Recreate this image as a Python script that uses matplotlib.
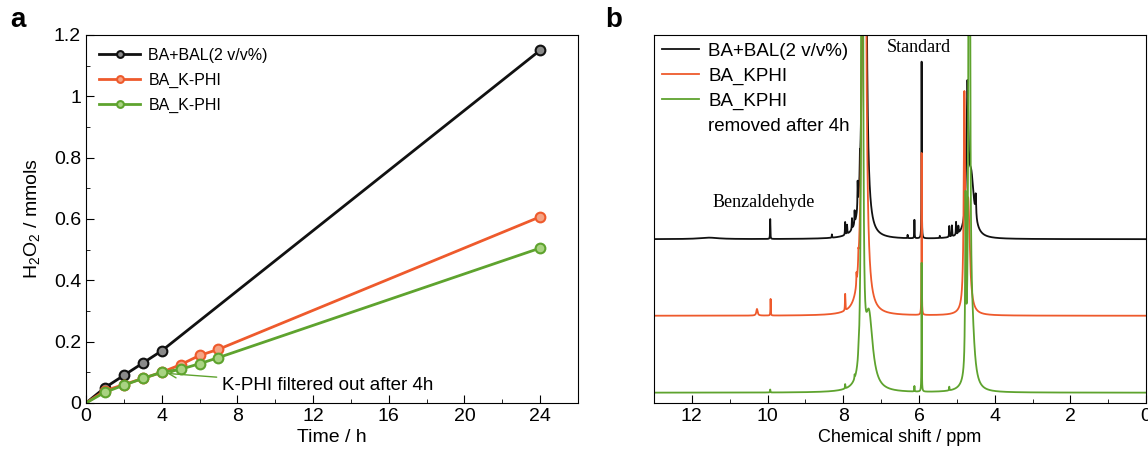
import matplotlib
matplotlib.use("Agg")
import matplotlib.pyplot as plt
import numpy as np
from matplotlib.lines import Line2D
from matplotlib.ticker import FuncFormatter, MultipleLocator

plt.rcParams["font.family"] = ["Liberation Sans", "DejaVu Sans"]

# panel a: H2O2 production
TIME_BAL = [0, 1, 2, 3, 4, 24]
H2O2_BAL = [0, 0.05, 0.09, 0.13, 0.17, 1.15]
TIME_KPHI = [0, 1, 2, 3, 4, 5, 6, 7, 24]
H2O2_KPHI = [0, 0.04, 0.06, 0.08, 0.10, 0.125, 0.155, 0.175, 0.607]
H2O2_KPHI_REMOVED = [0, 0.035, 0.058, 0.08, 0.10, 0.11, 0.128, 0.148, 0.505]
LABELS_A = ["BA+BAL(2 v/v%)", "BA_K-PHI", "BA_K-PHI"]

# panel b: 1H NMR peak lists (ppm, height, half width)
BAL_PPM = [11.55, 9.93, 8.30, 7.95, 7.90, 7.77, 7.70, 7.62, 7.56, 7.44,
           6.30, 6.12, 5.93, 5.45, 5.20, 5.13, 5.02, 4.96, 4.72, 4.62, 4.50]
BAL_AMP = [0.004, 0.054, 0.009, 0.035, 0.025, 0.03, 0.035, 0.07, 0.05, 4.0,
           0.009, 0.05, 0.48, 0.006, 0.03, 0.03, 0.035, 0.02, 0.36, 0.16, 0.06]
BAL_W = [0.3, 0.005, 0.005, 0.006, 0.006, 0.006, 0.006, 0.006, 0.006, 0.027,
         0.005, 0.005, 0.004, 0.005, 0.006, 0.006, 0.006, 0.006, 0.03, 0.09, 0.012]

KPHI_PPM = [10.28, 9.92, 7.95, 7.65, 7.60, 7.45, 5.93, 4.80, 4.70]
KPHI_AMP = [0.018, 0.045, 0.045, 0.03, 0.03, 4.0, 0.44, 0.55, 0.30]
KPHI_W = [0.02, 0.005, 0.006, 0.006, 0.006, 0.03, 0.004, 0.02, 0.05]

REM_PPM = [9.93, 7.95, 7.70, 7.60, 7.50, 7.32, 6.12, 5.93, 5.20, 4.77, 4.67, 4.60]
REM_AMP = [0.008, 0.012, 0.01, 0.015, 6.0, 0.2, 0.015, 0.35, 0.01, 0.45, 5.0, 0.15]
REM_W = [0.005, 0.006, 0.006, 0.006, 0.012, 0.12, 0.005, 0.004, 0.006, 0.012, 0.012, 0.08]

OFFSETS = [0.445, 0.237, 0.028]
LABELS_B = ["BA+BAL(2 v/v%)", "BA_KPHI", "BA_KPHI"]

BLACK = "#111111"
ORANGE = "#EE5A2C"
GREEN = "#5EA32E"


def spectrum(ppm, centers, amps, widths):
    y = np.zeros_like(ppm)
    for c, a, w in zip(centers, amps, widths):
        y += a * w**2 / ((ppm - c) ** 2 + w**2)
    return y


fig = plt.figure(figsize=(11.48, 4.55), dpi=100)
ax1 = fig.add_axes([0.0749, 0.1143, 0.4286, 0.809])
ax2 = fig.add_axes([0.5697, 0.1143, 0.4286, 0.809])

# ---- panel a
series = [
    (TIME_BAL, H2O2_BAL, BLACK, "#8a8a8a"),
    (TIME_KPHI, H2O2_KPHI, ORANGE, "#f5a384"),
    (TIME_KPHI, H2O2_KPHI_REMOVED, GREEN, "#a9d382"),
]
for (t, v, col, face), lab in zip(series, LABELS_A):
    ax1.plot(t, v, color=col, lw=2, marker="o", ms=7, mfc=face, mec=col,
             mew=1.5, markevery=list(range(1, len(t))), label=lab)

ax1.set_xlim(0, 26)
ax1.set_ylim(0, 1.2)
ax1.xaxis.set_major_locator(MultipleLocator(4))
ax1.xaxis.set_minor_locator(MultipleLocator(2))
ax1.yaxis.set_major_locator(MultipleLocator(0.2))
ax1.yaxis.set_minor_locator(MultipleLocator(0.1))
ax1.yaxis.set_major_formatter(FuncFormatter(lambda v, p: f"{v:g}"))
ax1.tick_params(which="both", direction="in", labelsize=14)
ax1.tick_params(which="major", length=6)
ax1.tick_params(which="minor", length=3)
ax1.set_xlabel("Time / h", fontsize=14, labelpad=3)
ax1.set_ylabel(r"H$_\mathregular{2}$O$_\mathregular{2}$ / mmols", fontsize=14,
               labelpad=8)
ax1.legend(loc="upper left", fontsize=11.5, frameon=False, handlelength=2.6,
           handletextpad=0.5, labelspacing=0.62, borderaxespad=0.4,
           markerscale=0.7)
ax1.annotate("K-PHI filtered out after 4h", xy=(4.15, 0.097), xytext=(7.2, 0.057),
             fontsize=13.5, va="center",
             arrowprops=dict(arrowstyle="->", color=GREEN, lw=1))

# ---- panel b
ppm = np.linspace(13, 0, 26001)
peak_sets = [
    (BAL_PPM, BAL_AMP, BAL_W, BLACK),
    (KPHI_PPM, KPHI_AMP, KPHI_W, ORANGE),
    (REM_PPM, REM_AMP, REM_W, GREEN),
]
for (c, a, w, col), off, lab in zip(peak_sets, OFFSETS, LABELS_B):
    ax2.plot(ppm, spectrum(ppm, c, a, w) + off, color=col, lw=1.3, label=lab)

ax2.set_xlim(13, 0)
ax2.set_ylim(0, 1)
ax2.set_yticks([])
ax2.xaxis.set_major_locator(MultipleLocator(2))
ax2.xaxis.set_minor_locator(MultipleLocator(1))
ax2.tick_params(which="both", direction="in", labelsize=14)
ax2.tick_params(which="major", length=6)
ax2.tick_params(which="minor", length=3)
ax2.set_xlabel("Chemical shift / ppm", fontsize=13, labelpad=3)

handles, labels = ax2.get_legend_handles_labels()
handles.append(Line2D([], [], color="none"))
labels.append("removed after 4h")
ax2.legend(handles, labels, loc="upper left", fontsize=13.5, frameon=False,
           handlelength=2.0, handletextpad=0.5, labelspacing=0.42,
           borderaxespad=0.0)
ax2.text(10.1, 0.546, "Benzaldehyde", family="Liberation Serif", fontsize=13,
         ha="center", va="center")
ax2.text(6.0, 0.965, "Standard", family="Liberation Serif", fontsize=13,
         ha="center", va="center")

fig.text(0.009, 0.94, "a", fontsize=20, fontweight="bold")
fig.text(0.527, 0.94, "b", fontsize=20, fontweight="bold")

fig.savefig("out.png", dpi=100)
